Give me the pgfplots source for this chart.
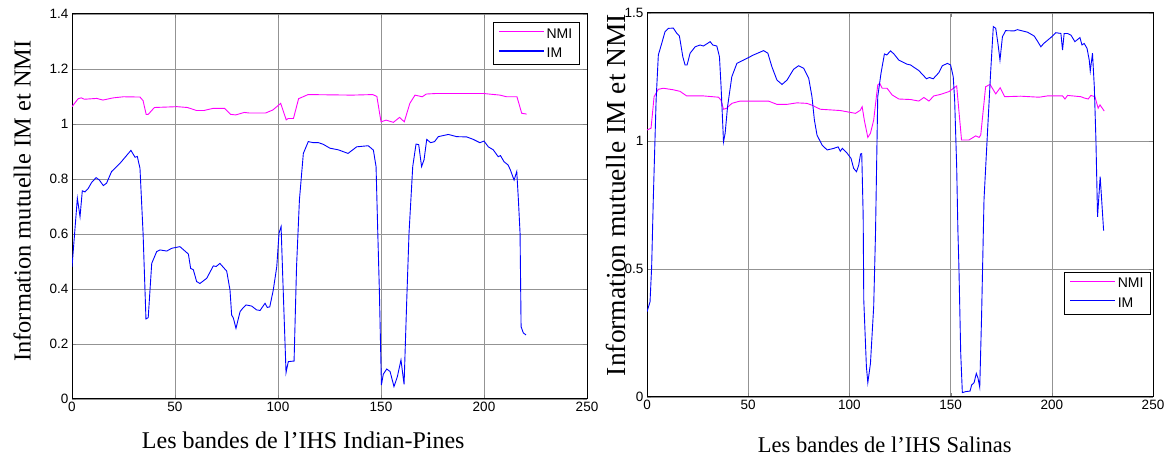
\documentclass[border=0pt]{standalone}
\usepackage{pgfplots}
\pgfplotsset{compat=1.18}
\usepackage{fontspec}
\setmainfont{Liberation Serif}
\newfontfamily\arial{Liberation Sans}
\definecolor{mmag}{RGB}{255,0,255}
\definecolor{mblue}{RGB}{0,0,255}
\begin{document}
\begin{tikzpicture}
\path[use as bounding box] (0pt,0pt) rectangle (1170pt,457pt);
\pgfplotsset{
  myax/.style={
    scale only axis,
    anchor=south west,
    xmin=0,xmax=250,ymin=0,
    xtick={0,50,100,150,200,250},
    axis line style={line width=1pt},
    tick pos=both, tick align=inside,
    major tick length=4pt,
    grid=major,
    major grid style={gray!85, line width=0.6pt},
    ticklabel style={font=\arial\fontsize{13.5}{13.5}\selectfont},
    /pgf/number format/assume math mode=true,
    ylabel={Information mutuelle IM et NMI},
    legend style={font=\arial\fontsize{14}{15}\selectfont, draw=black, line width=1pt, inner xsep=5pt, inner ysep=4pt, row sep=4pt},
    legend cell align=left,
    legend image code/.code={\draw[##1] (0pt,0.5ex) -- (45pt,0.5ex);},
    every axis plot/.append style={line width=0.9pt},
  },
  magline/.style={mmag, no markers, legend image post style={draw=mmag, line width=1.2pt}},
  blueline/.style={mblue, no markers, legend image post style={draw=mblue, line width=1.2pt}},
}
\begin{axis}[myax, at={(72pt,58pt)}, width=515pt, height=385pt, ymax=1.4,
  ytick={0,0.2,0.4,0.6,0.8,1,1.2,1.4},
  xlabel={Les bandes de l'IHS Indian-Pines},
  xlabel style={at={(axis description cs:0.449,-0.106)}, anchor=center, font=\fontsize{24}{26}\selectfont},
  ylabel style={at={(axis description cs:-0.097,0.514)}, anchor=center, font=\fontsize{24.4}{26}\selectfont},
  legend style={at={(0.986,0.979)}, anchor=north east}]
\addplot[magline] coordinates {(0,1.063)(3,1.092)(4.5,1.095)(6,1.09)(12,1.093)(15,1.087)(20,1.095)(25,1.099)(33,1.098)(34.5,1.085)(36,1.035)(37,1.035)(40,1.06)(51,1.063)(56,1.06)(60.5,1.049)(64,1.049)(68.6,1.057)(74,1.057)(77,1.035)(79.5,1.033)(83.6,1.042)(86,1.04)(94,1.04)(97.5,1.051)(101.3,1.075)(104,1.015)(105,1.02)(107.5,1.02)(110,1.092)(114.6,1.107)(136,1.105)(146,1.107)(148,1.1)(150,1.008)(152.5,1.014)(156,1.006)(159,1.024)(161.3,1.008)(164,1.075)(166.5,1.105)(170,1.099)(172,1.109)(177,1.111)(199.6,1.111)(207.8,1.105)(211,1.099)(216,1.099)(218.3,1.039)(220.7,1.036)};
\addlegendentry{NMI}
\addplot[blueline] coordinates {(0,0.48)(2.6,0.73)(3.9,0.663)(5,0.757)(6.3,0.753)(7.9,0.766)(9.5,0.787)(11.7,0.805)(13.3,0.796)(15.2,0.776)(16.8,0.785)(19.2,0.827)(23.3,0.857)(28.6,0.904)(30.6,0.879)(31.7,0.882)(33,0.839)(34.5,0.603)(35.9,0.291)(37,0.296)(38.7,0.493)(41.1,0.536)(42.7,0.542)(46,0.538)(48.4,0.548)(52.4,0.554)(56.5,0.527)(57.6,0.475)(58.9,0.47)(60.5,0.427)(62.1,0.42)(65.4,0.439)(68.6,0.484)(70,0.482)(71.8,0.493)(75.1,0.465)(76.7,0.396)(77.5,0.305)(78.3,0.295)(79.6,0.257)(81.6,0.318)(82.9,0.33)(84.5,0.342)(87.2,0.338)(89.6,0.324)(91.3,0.322)(93.7,0.348)(94.8,0.333)(96,0.335)(97.7,0.396)(99.4,0.481)(100.5,0.603)(101.5,0.627)(102.3,0.445)(103.9,0.096)(105,0.136)(107.8,0.138)(109,0.481)(110.4,0.724)(112.3,0.893)(114.7,0.936)(117.2,0.932)(119.7,0.932)(122,0.926)(125.2,0.912)(129.3,0.906)(134,0.893)(138.2,0.917)(143.8,0.921)(146.3,0.905)(147.6,0.845)(148.4,0.615)(149.2,0.396)(150.2,0.051)(151.1,0.09)(152.8,0.109)(154.4,0.1)(156.3,0.045)(157.9,0.08)(159.7,0.142)(161.2,0.053)(162.5,0.36)(163.6,0.603)(165.4,0.845)(167,0.927)(168.3,0.925)(169.7,0.845)(170.9,0.87)(172.2,0.944)(174.1,0.932)(176,0.936)(177.8,0.954)(182.7,0.962)(186.7,0.954)(191.6,0.953)(194.8,0.944)(198,0.932)(200,0.938)(202.1,0.917)(204.5,0.906)(206.9,0.881)(208,0.885)(209.7,0.863)(211.7,0.851)(212.8,0.833)(214.6,0.796)(215.9,0.827)(216.7,0.724)(217.5,0.603)(218,0.263)(219.1,0.24)(220.4,0.233)};
\addlegendentry{IM}
\end{axis}
\begin{axis}[myax, at={(647pt,60pt)}, width=506pt, height=384pt, ymax=1.5,
  ytick={0,0.5,1,1.5},
  xlabel={Les bandes de l'IHS Salinas},
  xlabel style={at={(axis description cs:0.47,-0.125)}, anchor=center, font=\fontsize{22.5}{24}\selectfont},
  ylabel style={at={(axis description cs:-0.061,0.526)}, anchor=center, font=\fontsize{27.5}{29}\selectfont},
  legend style={at={(0.996,0.326)}, anchor=north east}]
\addplot[magline] coordinates {(0,1.043)(2,1.05)(3.5,1.173)(5.6,1.202)(8.1,1.206)(13,1.2)(16.3,1.194)(19.6,1.176)(28,1.176)(35.3,1.171)(36.5,1.16)(37.8,1.124)(39.4,1.128)(41.9,1.147)(46,1.156)(60,1.156)(64.2,1.143)(69.1,1.143)(74.1,1.149)(79,1.147)(81.5,1.14)(85.6,1.124)(95.5,1.119)(103,1.108)(105.4,1.12)(106.3,1.134)(107.4,1.08)(109.1,1.014)(110.4,1.03)(112,1.082)(114,1.219)(115,1.225)(116.2,1.206)(118.6,1.206)(121.1,1.18)(124.4,1.164)(130.2,1.162)(134.3,1.156)(136.8,1.17)(139.3,1.156)(141.7,1.176)(145,1.182)(149.2,1.193)(153,1.215)(155.4,1.004)(159.1,1.004)(162.4,1.02)(164.1,1.014)(164.9,1.024)(167.3,1.212)(169.5,1.221)(172.3,1.184)(174.5,1.208)(176.7,1.173)(184.6,1.175)(193.7,1.171)(197.8,1.176)(205.3,1.176)(206.5,1.164)(207.8,1.178)(214.4,1.173)(216,1.168)(218,1.164)(219.3,1.178)(221.3,1.173)(222.9,1.128)(223.8,1.141)(225.9,1.117)};
\addlegendentry{NMI}
\addplot[blueline] coordinates {(0,0.333)(1.5,0.372)(2.3,0.509)(3.1,0.77)(4.5,1.16)(5.6,1.336)(7.3,1.382)(8.9,1.427)(10.6,1.44)(13,1.441)(14.7,1.421)(16,1.41)(17.7,1.329)(18.8,1.297)(19.8,1.297)(21.3,1.343)(23.8,1.368)(26.2,1.375)(27.9,1.371)(31.2,1.388)(32.5,1.375)(34.5,1.371)(35.8,1.329)(36.6,1.212)(37.8,0.997)(38.6,1.03)(39.8,1.134)(41.9,1.251)(44.4,1.303)(47.7,1.316)(52.6,1.336)(57.6,1.353)(59.7,1.343)(61.7,1.29)(64.2,1.238)(66.7,1.221)(69.2,1.238)(72.4,1.28)(74.9,1.294)(77.4,1.284)(79.9,1.245)(81.5,1.173)(82.7,1.082)(84,1.023)(86.5,0.984)(89,0.965)(92.2,0.971)(94.4,0.977)(95.5,0.96)(96.5,0.971)(98.9,0.952)(100.8,0.932)(102.1,0.893)(103.5,0.88)(104.6,0.906)(105.5,0.949)(106.1,0.951)(106.8,0.71)(107.1,0.379)(108.4,0.118)(109.1,0.056)(110.4,0.131)(112,0.353)(112.9,0.64)(114,1.173)(115.6,1.264)(117.3,1.34)(118.5,1.336)(120.3,1.352)(122,1.34)(124.4,1.316)(128.5,1.3)(130.2,1.297)(134.3,1.275)(138.1,1.243)(139.5,1.248)(141.4,1.243)(144.2,1.267)(145.9,1.294)(148.4,1.303)(150,1.297)(151.3,1.251)(152,1.16)(153,0.9)(153.6,0.652)(154.1,0.509)(155,0.171)(155.8,0.017)(157.5,0.021)(159.6,0.023)(160.4,0.047)(161.6,0.056)(162.7,0.092)(163.5,0.075)(164.4,0.038)(165.3,0.314)(166.5,0.77)(168.2,1.03)(169.8,1.271)(171.1,1.447)(172.3,1.44)(173.4,1.38)(174.4,1.316)(175.6,1.407)(177.2,1.431)(181.4,1.43)(183,1.435)(188,1.425)(191.3,1.41)(193,1.389)(194.6,1.368)(196,1.381)(199.5,1.404)(202,1.423)(204.5,1.42)(205.3,1.355)(206.1,1.42)(207.8,1.42)(209.5,1.413)(211.4,1.388)(212.5,1.395)(213.9,1.404)(214.9,1.375)(216,1.381)(217.4,1.362)(218.5,1.316)(219,1.273)(220.1,1.343)(221,1.212)(221.8,1.004)(222.6,0.704)(223.9,0.861)(225.6,0.65)};
\addlegendentry{IM}
\end{axis}
\end{tikzpicture}
\end{document}
